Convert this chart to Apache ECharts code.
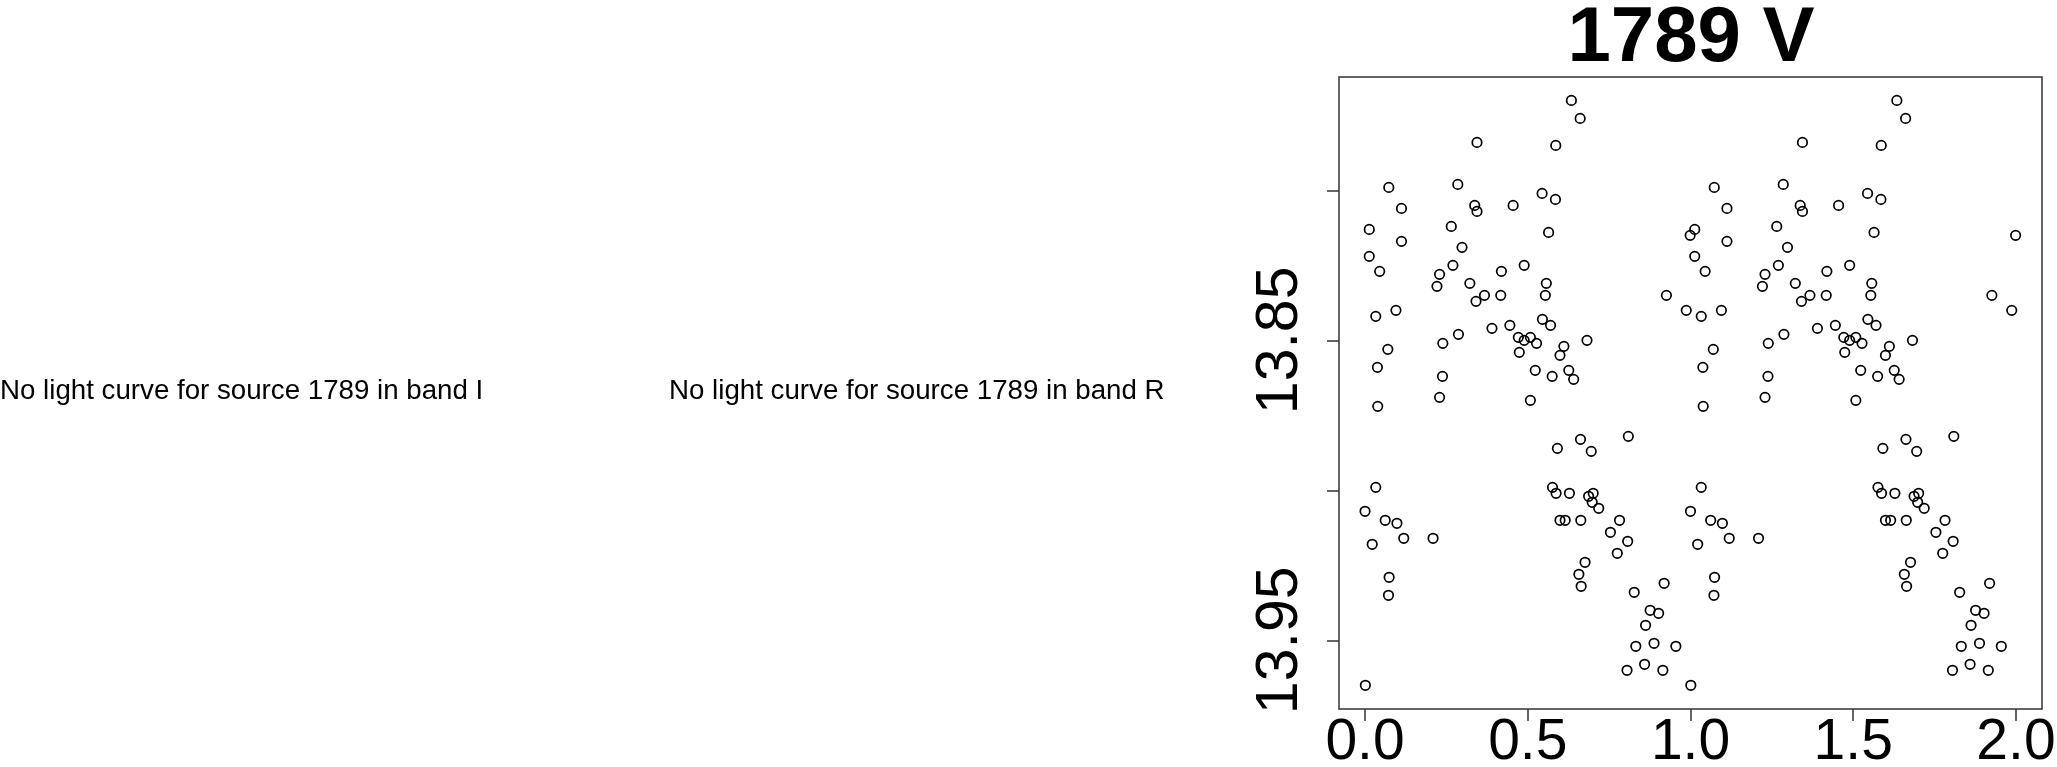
<!DOCTYPE html>
<html><head><meta charset="utf-8">
<script src="https://cdn.jsdelivr.net/npm/echarts@6/dist/echarts.min.js"></script>
<style>html,body{margin:0;padding:0;background:#fff}#c{width:2057px;height:767px}</style>
</head><body><div id="c"></div>
<script>
// Phase-folded V band light curve of source 1789 (phase in [0,1), magnitude)
const phase = [
  0.634, 0.661, 0.344, 0.586, 0.073, 0.285, 0.544, 0.585, 0.112, 0.337,
  0.344, 0.455, 0.013, 0.265, 0.564, 0.112, 0.298, 0.013, 0.045, 0.229,
  0.270, 0.419, 0.489, 0.221, 0.322, 0.557, 0.367, 0.341, 0.417, 0.554,
  0.033, 0.095, 0.390, 0.445, 0.545, 0.570, 0.287, 0.239, 0.471, 0.489,
  0.508, 0.527, 0.611, 0.682, 0.474, 0.599, 0.070, 0.038, 0.238, 0.523,
  0.575, 0.626, 0.641, 0.039, 0.229, 0.508, 0.662, 0.591, 0.695, 0.809,
  0.033, 0.576, 0.587, 0.628, 0.701, 0.687, 0.698, 0.718, 0.000, 0.062,
  0.098, 0.599, 0.615, 0.663, 0.782, 0.022, 0.119, 0.209, 0.754, 0.807,
  0.775, 0.676, 0.657, 0.664, 0.074, 0.072, 0.827, 0.919, 0.876, 0.902,
  0.862, 0.832, 0.888, 0.955, 0.805, 0.859, 0.915, 0.001, 0.926, 0.987,
  0.999
];
const mag = [
  13.770, 13.776, 13.784, 13.785, 13.799, 13.798, 13.801, 13.803, 13.806, 13.805,
  13.807, 13.805, 13.813, 13.812, 13.814, 13.817, 13.819, 13.822, 13.827, 13.828,
  13.825, 13.827, 13.825, 13.832, 13.831, 13.831, 13.835, 13.837, 13.835, 13.835,
  13.842, 13.840, 13.846, 13.845, 13.843, 13.845, 13.848, 13.851, 13.849, 13.850,
  13.849, 13.851, 13.852, 13.850, 13.854, 13.855, 13.853, 13.859, 13.862, 13.860,
  13.862, 13.860, 13.863, 13.872, 13.869, 13.870, 13.883, 13.886, 13.887, 13.882,
  13.899, 13.899, 13.901, 13.901, 13.901, 13.902, 13.904, 13.906, 13.907, 13.910,
  13.911, 13.910, 13.910, 13.910, 13.910, 13.918, 13.916, 13.916, 13.914, 13.917,
  13.921, 13.924, 13.928, 13.932, 13.929, 13.935, 13.934, 13.931, 13.940, 13.941,
  13.945, 13.952, 13.951, 13.952, 13.960, 13.958, 13.960, 13.965, 13.835, 13.840,
  13.815
];
const xTicks = [0, 0.5, 1, 1.5, 2];
const yTicks = [13.80, 13.85, 13.90, 13.95];
const yLabelTicks = [13.85, 13.95];
const titleText = '1789 V';
const missingTexts = [
  'No light curve for source 1789 in band I',
  'No light curve for source 1789 in band R'
];

const FONT = '"Liberation Sans", Arial, Helvetica, sans-serif';
// each phase is shown twice (phase and phase + 1 cycle)
const points = phase.map((p, i) => [p, mag[i]])
  .concat(phase.map((p, i) => [p + 1, mag[i]]));

const chart = echarts.init(document.getElementById('c'));
chart.setOption({
  animation: false,
  backgroundColor: '#fff',
  grid: {
    left: 1339, top: 77, width: 703, height: 632,
    containLabel: false, outerBoundsMode: 'none',
    show: true, borderColor: '#333', borderWidth: 1.5, backgroundColor: 'transparent'
  },
  xAxis: {
    type: 'value', min: -0.08, max: 2.08,
    axisLine: { show: false, onZero: false },
    splitLine: { show: false },
    axisTick: { show: true, customValues: xTicks, length: 12, lineStyle: { color: '#333', width: 1.5 } },
    axisLabel: {
      show: true, customValues: xTicks, margin: 6,
      fontFamily: FONT, fontSize: 57, color: '#000',
      formatter: v => v.toFixed(1)
    }
  },
  yAxis: {
    type: 'value', inverse: true, min: 13.7622, max: 13.9729,
    axisLine: { show: false, onZero: false },
    splitLine: { show: false },
    axisTick: { show: true, customValues: yTicks, length: 12, lineStyle: { color: '#333', width: 1.5 } },
    axisLabel: {
      show: true, customValues: yLabelTicks, rotate: 90, margin: 29,
      fontFamily: FONT, fontSize: 59, color: '#000',
      formatter: v => v.toFixed(2)
    }
  },
  graphic: [
    { type: 'text', x: 1691, y: 39, style: { text: titleText, font: 'bold 78px ' + FONT, fill: '#000',
      align: 'center', verticalAlign: 'middle', textAlign: 'center', textVerticalAlign: 'middle' } },
    { type: 'text', x: 0, y: 391, style: { text: missingTexts[0], font: '27.7px ' + FONT, fill: '#000',
      align: 'left', verticalAlign: 'middle', textAlign: 'left', textVerticalAlign: 'middle' } },
    { type: 'text', x: 669, y: 391, style: { text: missingTexts[1], font: '27.7px ' + FONT, fill: '#000',
      align: 'left', verticalAlign: 'middle', textAlign: 'left', textVerticalAlign: 'middle' } }
  ],
  series: [{
    type: 'scatter',
    data: points,
    symbol: 'circle',
    symbolSize: 9.5,
    itemStyle: { color: 'rgba(0,0,0,0)', borderColor: '#000', borderWidth: 1.7, opacity: 1 },
    emphasis: { disabled: true },
    silent: true
  }]
});
</script></body></html>
